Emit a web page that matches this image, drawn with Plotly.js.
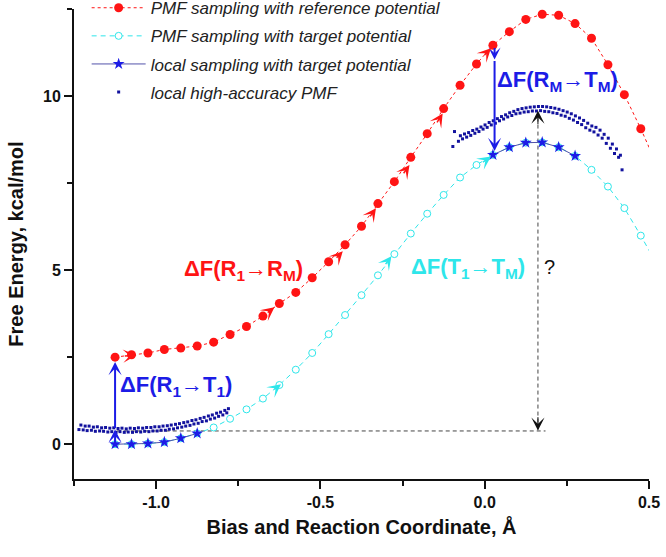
<!DOCTYPE html>
<html>
<head>
<meta charset="utf-8">
<script src="https://cdn.plot.ly/plotly-3.0.1.min.js"></script>
<style>
  html, body { margin:0; padding:0; background:#fff; }
  #chart { width:666px; height:557px; }
</style>
</head>
<body>
<div id="chart"></div>
<script>
// reaction coordinate grid shared by the PMF curves
const gridX = [-1.125,-1.075,-1.025,-0.975,-0.925,-0.875,-0.825,-0.775,-0.725,-0.675,-0.625,-0.575,
  -0.525,-0.475,-0.425,-0.375,-0.325,-0.275,-0.225,-0.175,-0.125,-0.075,-0.025,0.025,0.075,0.125,
  0.175,0.225,0.275,0.325,0.375,0.425,0.475,0.525];

// PMF sampling with reference potential
const refY = [2.50,2.57,2.62,2.72,2.76,2.82,2.93,3.15,3.38,3.68,4.04,4.36,4.78,5.24,5.73,6.26,6.91,
  7.54,8.24,8.92,9.64,10.31,10.92,11.46,11.85,12.20,12.35,12.32,12.08,11.66,10.90,10.04,9.06,8.00];

// PMF sampling with target potential
const tgtY = [0.00,0.00,0.02,0.06,0.17,0.31,0.48,0.73,1.00,1.31,1.70,2.14,2.62,3.16,3.71,4.28,4.85,
  5.46,6.05,6.62,7.16,7.66,8.02,8.31,8.53,8.66,8.67,8.53,8.28,7.88,7.40,6.78,5.99,5.15];

// local sampling with target potential (two windows)
const starX = [-1.125,-1.075,-1.025,-0.975,-0.925,-0.875,-0.4,0.025,0.075,0.125,0.175,0.225,0.275];
const starY = [0.00,0.00,0.02,0.06,0.17,0.31,null,8.31,8.53,8.66,8.67,8.53,8.28];

// local high-accuracy PMF (two windows, two rows of points each)
const locX = [
  -1.235,-1.222,-1.210,-1.197,-1.185,-1.172,-1.160,-1.147,-1.135,-1.122,-1.110,-1.097,-1.085,-1.072,
  -1.060,-1.047,-1.035,-1.022,-1.010,-0.997,-0.985,-0.972,-0.960,-0.947,-0.935,-0.922,-0.910,-0.897,
  -0.885,-0.872,-0.860,-0.847,-0.835,-0.822,-0.810,-0.797,-0.785,
  -1.229,-1.216,-1.204,-1.191,-1.179,-1.166,-1.154,-1.141,-1.129,-1.116,-1.104,-1.091,-1.079,-1.066,
  -1.054,-1.041,-1.029,-1.016,-1.004,-0.991,-0.979,-0.966,-0.954,-0.941,-0.929,-0.916,-0.904,-0.891,
  -0.879,-0.866,-0.854,-0.841,-0.829,-0.816,-0.804,-0.791,-0.780,
  -0.097,-0.080,-0.0675,-0.055,-0.0425,-0.030,-0.0175,-0.005,0.0075,0.020,0.0325,0.045,0.0575,0.070,
  0.0825,0.095,0.1075,0.120,0.1325,0.145,0.1575,0.170,0.1825,0.195,0.2075,0.220,0.2325,0.245,0.2575,
  0.270,0.2825,0.295,0.3075,0.320,0.3325,0.345,0.3575,0.370,0.3825,0.395,0.4075,0.418,
  -0.092,-0.074,-0.0615,-0.049,-0.0365,-0.024,-0.0115,0.001,0.0135,0.026,0.0385,0.051,0.0635,0.076,
  0.0885,0.101,0.1135,0.126,0.1385,0.151,0.1635,0.176,0.1885,0.201,0.2135,0.226,0.2385,0.251,0.2635,
  0.276,0.2885,0.301,0.3135,0.326,0.3385,0.351,0.3635,0.376,0.3885,0.401,0.413];
const locY = [
  0.42,0.41,0.39,0.40,0.37,0.38,0.37,0.35,0.36,0.34,0.36,0.34,0.35,0.34,
  0.36,0.35,0.37,0.36,0.38,0.38,0.40,0.40,0.43,0.44,0.47,0.49,0.52,0.54,
  0.58,0.60,0.65,0.67,0.72,0.75,0.80,0.84,0.90,
  0.55,0.52,0.52,0.49,0.50,0.47,0.48,0.46,0.47,0.45,0.46,0.44,0.46,0.45,
  0.47,0.46,0.48,0.48,0.50,0.50,0.52,0.53,0.55,0.57,0.59,0.62,0.64,0.68,
  0.70,0.74,0.77,0.81,0.84,0.89,0.92,0.97,1.02,
  8.55,8.70,8.77,8.82,8.87,8.93,8.98,9.05,9.10,9.17,9.22,9.29,9.34,9.40,
  9.44,9.49,9.51,9.54,9.55,9.57,9.57,9.58,9.56,9.55,9.52,9.50,9.45,9.42,9.36,
  9.31,9.24,9.18,9.09,9.02,8.97,8.88,8.79,8.64,8.50,8.35,8.24,7.88,
  8.98,8.86,8.91,8.95,9.01,9.05,9.11,9.17,9.24,9.29,9.35,9.41,9.46,9.52,
  9.56,9.61,9.64,9.66,9.68,9.69,9.70,9.70,9.69,9.67,9.65,9.62,9.58,9.54,9.49,
  9.43,9.37,9.30,9.22,9.14,9.10,9.02,8.90,8.79,8.62,8.48,8.30];

const xTickVals = [-1.0,-0.5,0.0,0.5];
const xTickText = ['-1.0','-0.5','0.0','0.5'];
const yTickVals = [0,5,10];

const RED = '#ff1414', CYAN = '#2ee6ea', BLUE = '#1c1ce6', NAVY = '#12129e';
const FONT = 'Arial, "Liberation Sans", Helvetica, sans-serif';

const traces = [
  {x:gridX, y:refY, name:'PMF sampling with reference potential', legendgroup:'a',
   mode:'lines+markers', line:{color:RED, width:1, dash:'3px,3px'},
   marker:{color:RED, size:9, symbol:'circle'}},
  {x:gridX, y:tgtY, name:'PMF sampling with target potential', legendgroup:'b',
   mode:'lines+markers', line:{color:CYAN, width:1, dash:'5px,4px'},
   marker:{color:'#fff', size:7, symbol:'circle', line:{color:CYAN, width:1}}},
  {x:starX, y:starY, name:'local sampling with target potential', legendgroup:'c',
   mode:'lines+markers', connectgaps:false, line:{color:'#5252aa', width:1},
   marker:{color:BLUE, size:9, symbol:'star'}},
  {x:locX, y:locY, name:'local high-accuracy PMF', legendgroup:'d',
   mode:'markers', marker:{color:NAVY, size:3, symbol:'square'}}
];

// arrow helper: tip (x,y), tail (ax,ay) in data units
function arrow(x, y, ax, ay, color, width, size){
  return {x:x, y:y, ax:ax, ay:ay, xref:'x', yref:'y', axref:'x', ayref:'y', text:'',
    showarrow:true, arrowhead:3, arrowcolor:color, arrowwidth:width, arrowsize:size, standoff:0};
}
function label(x, y, text, color, size, weight){
  return {x:x, y:y, xref:'x', yref:'y', text:text, showarrow:false, xanchor:'center', yanchor:'middle',
    font:{family:FONT, size:size, color:color, weight:weight}};
}

const annotations = [
  label(-0.735, 5.0, 'ΔF(R<sub>1</sub>→R<sub>M</sub>)', RED, 22, 'bold'),
  label(-0.94, 1.66, 'ΔF(R<sub>1</sub>→T<sub>1</sub>)', BLUE, 22, 'bold'),
  label(0.22, 10.42, 'ΔF(R<sub>M</sub>→T<sub>M</sub>)', BLUE, 22, 'bold'),
  label(-0.052, 5.06, 'ΔF(T<sub>1</sub>→T<sub>M</sub>)', CYAN, 22, 'bold'),
  label(0.197, 5.08, '?', '#111', 20, 'normal'),
  // blue vertical arrows
  arrow(-1.125, 0.42, -1.125, 0.0, BLUE, 2, 1.1),
  arrow(-1.125, 2.36, -1.125, 0.42, BLUE, 2, 1.1),
  arrow(0.03, 11.05, 0.03, 11.42, BLUE, 2, 1.0),
  arrow(0.03, 8.42, 0.03, 11.05, BLUE, 2, 1.1),
  // black heads of the dashed double arrow
  arrow(0.162, 9.58, 0.162, 9.15, '#111', 1, 2.2),
  arrow(0.162, 0.39, 0.162, 0.82, '#111', 1, 2.2),
  // direction marks along the reference curve
  arrow(-1.06, 2.555, -1.10, 2.53, RED, 1.5, 1.5),
  arrow(-0.64, 3.93, -0.665, 3.75, RED, 1.5, 1.5),
  arrow(-0.432, 5.54, -0.455, 5.31, RED, 1.5, 1.5),
  arrow(-0.331, 6.78, -0.352, 6.50, RED, 1.5, 1.5),
  arrow(-0.229, 8.02, -0.25, 7.74, RED, 1.5, 1.5),
  arrow(-0.128, 9.50, -0.148, 9.20, RED, 1.5, 1.5),
  arrow(0.019, 11.37, -0.005, 11.14, RED, 1.5, 1.5),
  // direction marks along the target curve
  arrow(-0.62, 1.72, -0.645, 1.54, CYAN, 1.5, 1.5),
  arrow(-0.284, 5.40, -0.305, 5.13, CYAN, 1.5, 1.5),
  arrow(0.019, 8.26, -0.01, 8.07, CYAN, 1.5, 1.5)
];

const shapes = [
  {type:'line', xref:'x', yref:'y', x0:-1.12, x1:0.185, y0:0.38, y1:0.38,
   line:{color:'#444', width:1, dash:'4px,3px'}, layer:'below'},
  {type:'line', xref:'x', yref:'y', x0:0.162, x1:0.162, y0:0.42, y1:9.5,
   line:{color:'#444', width:1, dash:'4px,3px'}, layer:'below'}
];

const axisCommon = {
  showgrid:false, zeroline:false, showline:true, linecolor:'#111', linewidth:2,
  ticks:'outside', ticklen:8, tickwidth:2, tickcolor:'#111',
  tickfont:{family:FONT, size:16, color:'#111', weight:'bold'}
};

const layout = {
  width:666, height:557,
  margin:{l:74, r:17, t:9, b:78, autoexpand:false},
  paper_bgcolor:'#fff', plot_bgcolor:'#fff',
  font:{family:FONT},
  showlegend:true,
  legend:{x:0.022, y:1.04, xanchor:'left', yanchor:'top', bgcolor:'rgba(0,0,0,0)',
    font:{family:FONT, size:17, color:'#222', style:'italic'},
    itemwidth:54, tracegroupgap:3, traceorder:'grouped'},
  xaxis:Object.assign({}, axisCommon, {
    range:[-1.25, 0.5], tickvals:xTickVals, ticktext:xTickText,
    minor:{dtick:0.25, tick0:0, ticks:'outside', ticklen:5, tickwidth:2, tickcolor:'#111'},
    title:{text:'Bias and Reaction Coordinate, Å', standoff:10,
      font:{family:FONT, size:20, color:'#111', weight:'bold'}}
  }),
  yaxis:Object.assign({}, axisCommon, {
    range:[-1, 12.5], tickvals:yTickVals,
    minor:{dtick:2.5, tick0:0, ticks:'outside', ticklen:5, tickwidth:2, tickcolor:'#111'},
    title:{text:'Free Energy, kcal/mol', standoff:14,
      font:{family:FONT, size:20, color:'#111', weight:'bold'}}
  }),
  annotations:annotations,
  shapes:shapes
};

Plotly.newPlot('chart', traces, layout, {displayModeBar:false, staticPlot:true});
</script>
</body>
</html>
